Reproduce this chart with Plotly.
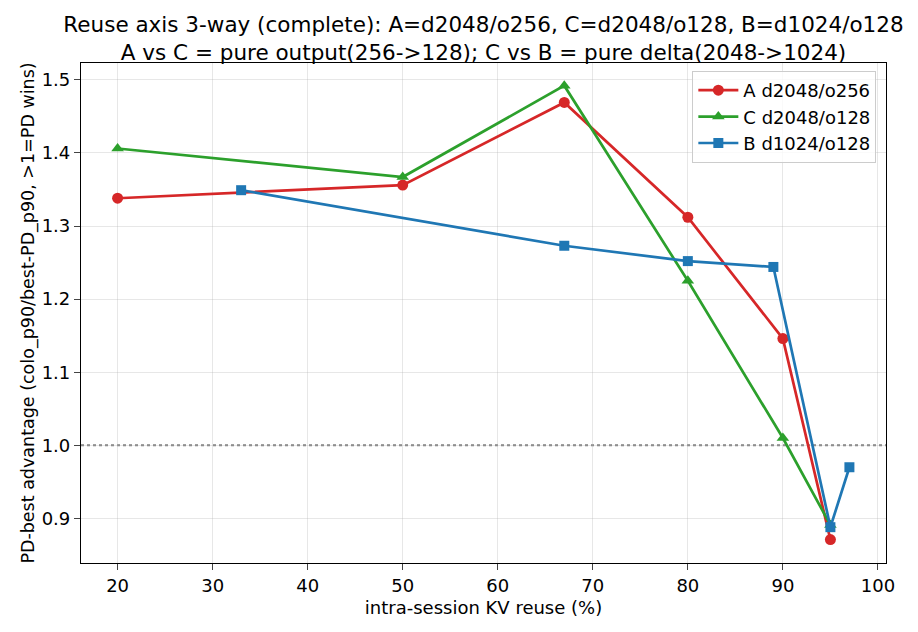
import plotly.graph_objects as go

a_x = [20, 50, 67, 80, 90, 95]
a_y = [1.338, 1.356, 1.469, 1.312, 1.146, 0.871]
c_x = [20, 50, 67, 80, 90, 95]
c_y = [1.406, 1.367, 1.492, 1.225, 1.010, 0.891]
b_x = [33, 67, 80, 89, 95, 97]
b_y = [1.349, 1.273, 1.252, 1.244, 0.888, 0.970]

x_ticks = [20, 30, 40, 50, 60, 70, 80, 90, 100]
y_ticks = [0.9, 1.0, 1.1, 1.2, 1.3, 1.4, 1.5]

font = "DejaVu Sans"
fig = go.Figure()
fig.add_trace(go.Scatter(x=a_x, y=a_y, mode="lines+markers", name="A d2048/o256",
                         line=dict(color="#d62728", width=2.7),
                         marker=dict(symbol="circle", size=11, color="#d62728")))
fig.add_trace(go.Scatter(x=c_x, y=c_y, mode="lines+markers", name="C d2048/o128",
                         line=dict(color="#2ca02c", width=2.7),
                         marker=dict(symbol="triangle-up", size=11, color="#2ca02c")))
fig.add_trace(go.Scatter(x=b_x, y=b_y, mode="lines+markers", name="B d1024/o128",
                         line=dict(color="#1f77b4", width=2.7),
                         marker=dict(symbol="square", size=10, color="#1f77b4")))

fig.add_shape(type="line", xref="paper", x0=0, x1=1, yref="y", y0=1.0, y1=1.0,
              line=dict(color="gray", width=2, dash="dot"), layer="below")

fig.update_layout(
    width=918, height=632,
    margin=dict(l=81, r=32, t=63, b=69),
    paper_bgcolor="white", plot_bgcolor="white",
    font=dict(family=font, size=18, color="black"),
    title=dict(text="Reuse axis 3-way (complete): A=d2048/o256, C=d2048/o128, B=d1024/o128<br>A vs C = pure output(256->128); C vs B = pure delta(2048->1024)",
               x=0.5, xref="paper", xanchor="center", y=1 - 32 / 632, yanchor="middle",
               font=dict(family=font, size=21.5)),
    showlegend=True,
    legend=dict(x=0.988, y=0.984, xanchor="right", yanchor="top",
                bgcolor="rgba(255,255,255,0.8)", bordercolor="#cccccc", borderwidth=1,
                font=dict(family=font, size=18), tracegroupgap=0, itemwidth=40),
    xaxis=dict(range=[16.15, 100.85], tickvals=x_ticks, ticks="outside", ticklen=6,
               showline=True, linecolor="black", linewidth=1.2, mirror=True,
               showgrid=True, gridcolor="rgba(176,176,176,0.3)", zeroline=False,
               title=dict(text="intra-session KV reuse (%)", font=dict(size=18), standoff=6),
               tickfont=dict(size=18)),
    yaxis=dict(range=[0.839, 1.523], tickvals=y_ticks, tickformat=".1f", ticks="outside", ticklen=6,
               showline=True, linecolor="black", linewidth=1.2, mirror=True,
               showgrid=True, gridcolor="rgba(176,176,176,0.3)", zeroline=False,
               title=dict(text="PD-best advantage (colo_p90/best-PD_p90, >1=PD wins)", font=dict(size=17.5), standoff=2),
               tickfont=dict(size=18)),
)

fig.write_html("out.html")
